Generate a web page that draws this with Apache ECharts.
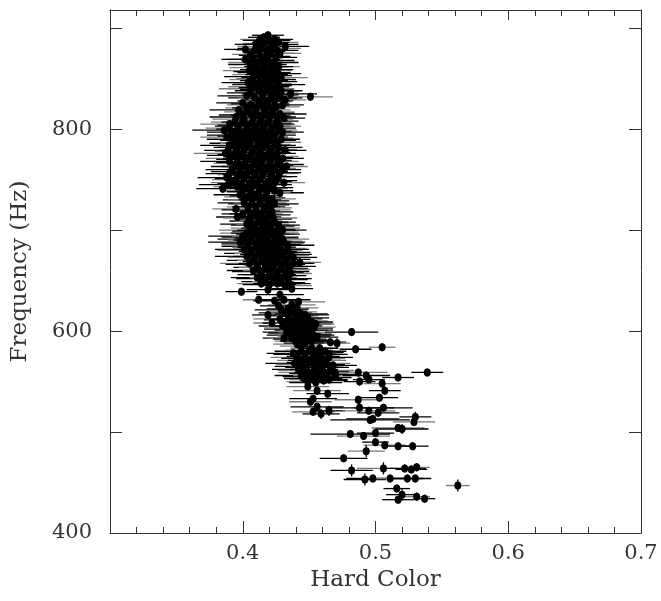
<!DOCTYPE html>
<html><head><meta charset="utf-8">
<script src="https://cdn.jsdelivr.net/npm/echarts@6/dist/echarts.min.js"></script>
<style>html,body{margin:0;padding:0;background:#fff}#c{width:661px;height:601px}</style>
</head><body><div id="c"></div>
<script>
// Axis settings
const xRange = [0.3, 0.7];
const yRange = [400, 918];
const xLabelValues = [0.4, 0.5, 0.6, 0.7];
const yLabelValues = [400, 600, 800];
const denseFreqErr = 4;

// [hardColor, frequency, hardColorErr]  -- upper branch
const upperBranch = [
[0.419,893,0.012],[0.413,889,0.015],[0.418,888,0.018],[0.424,889,0.014],[0.416,885,0.016],[0.410,884,0.016],[0.422,884,0.02],[0.427,886,0.015],[0.414,880,0.018],[0.419,879,0.015],[0.424,880,0.02],[0.432,882,0.018],[0.402,879,0.016],[0.409,878,0.014],[0.421,875,0.018],[0.425,871,0.016],[0.428,875,0.016],[0.402,869,0.018],[0.408,869,0.02],[0.414,870,0.016],[0.419,868,0.02],[0.424,866,0.018],[0.427,862,0.016],[0.411,864,0.022],[0.417,862,0.016],[0.405,858,0.02],[0.411,857,0.018],[0.416,856,0.02],[0.421,858,0.016],[0.426,855,0.018],[0.408,852,0.022],[0.413,850,0.018],[0.419,851,0.02],[0.424,849,0.016],[0.429,851,0.02],[0.404,846,0.02],[0.410,844,0.018],[0.415,845,0.022],[0.421,843,0.016],[0.427,844,0.02],[0.406,840,0.024],[0.412,838,0.018],[0.418,839,0.02],[0.424,837,0.018],[0.429,838,0.016],[0.436,835,0.02],[0.451,832,0.017],[0.403,833,0.022],[0.409,831,0.02],[0.415,832,0.018],[0.421,830,0.02],[0.427,831,0.018],[0.432,829,0.016]
];
const upperFill = [
[0.416,891,0.012],[0.421,886,0.014],[0.412,882,0.016],[0.418,877,0.014],[0.426,878,0.016],[0.406,874,0.014],[0.413,873,0.016],[0.418,872,0.018],[0.405,866,0.016],[0.416,866,0.014],[0.422,862,0.016],[0.408,861,0.018],[0.414,859,0.016],[0.424,859,0.014],[0.410,854,0.018],[0.418,854,0.016],[0.423,853,0.014],[0.406,849,0.016],[0.416,848,0.018],[0.427,847,0.014],[0.407,842,0.018],[0.413,841,0.016],[0.419,842,0.016],[0.425,840,0.014],[0.406,836,0.018],[0.415,835,0.016],[0.422,834,0.018],[0.428,834,0.014],[0.412,828,0.016],[0.418,827,0.018],[0.424,828,0.014]
];
// middle branch 737-828 Hz
const middleBranch = [
[0.400,826,0.02],[0.406,824,0.018],[0.413,825,0.022],[0.419,823,0.016],[0.425,822,0.018],[0.430,824,0.016],
[0.397,819,0.022],[0.404,817,0.018],[0.410,818,0.016],[0.417,816,0.022],[0.423,817,0.016],[0.428,815,0.02],
[0.395,812,0.02],[0.401,810,0.024],[0.408,811,0.016],[0.414,809,0.02],[0.420,810,0.018],[0.426,808,0.016],[0.431,811,0.016],
[0.390,805,0.022],[0.397,803,0.018],[0.403,804,0.022],[0.410,802,0.016],[0.416,803,0.02],[0.422,801,0.018],[0.428,803,0.016],
[0.386,799,0.024],[0.393,797,0.02],[0.400,796,0.016],[0.406,798,0.02],[0.412,795,0.018],[0.418,796,0.022],[0.424,794,0.016],[0.430,797,0.016],
[0.388,792,0.02],[0.395,790,0.022],[0.401,789,0.018],[0.408,791,0.02],[0.414,788,0.016],[0.420,789,0.02],[0.426,787,0.018],
[0.390,784,0.022],[0.396,782,0.018],[0.403,783,0.022],[0.409,781,0.02],[0.415,782,0.016],[0.421,780,0.02],[0.427,782,0.018],[0.432,779,0.016],
[0.387,776,0.024],[0.393,774,0.02],[0.399,775,0.018],[0.406,773,0.02],[0.412,774,0.016],[0.418,772,0.02],[0.424,773,0.018],[0.430,771,0.016],
[0.390,768,0.022],[0.396,766,0.018],[0.402,767,0.022],[0.408,765,0.016],[0.414,766,0.02],[0.420,764,0.018],[0.426,765,0.02],[0.433,763,0.016],
[0.392,760,0.02],[0.398,758,0.022],[0.404,759,0.016],[0.410,757,0.02],[0.416,758,0.018],[0.422,756,0.02],[0.428,757,0.016],
[0.388,752,0.022],[0.395,750,0.018],[0.401,751,0.022],[0.407,749,0.016],[0.413,750,0.02],[0.419,748,0.018],[0.425,749,0.016],[0.431,747,0.016],
[0.385,741,0.02],[0.389,745,0.022],[0.396,743,0.018],[0.402,742,0.02],[0.408,744,0.016],[0.414,741,0.02],[0.420,742,0.018],[0.428,737,0.018]
];
const middleFill = [
[0.403,821,0.016],[0.410,821,0.018],[0.416,820,0.016],[0.422,819,0.014],[0.400,814,0.018],[0.407,814,0.016],[0.413,813,0.018],[0.420,813,0.016],[0.426,812,0.014],
[0.394,807,0.018],[0.400,807,0.016],[0.407,806,0.018],[0.413,806,0.016],[0.419,806,0.018],[0.425,805,0.014],
[0.390,801,0.018],[0.396,800,0.016],[0.403,800,0.018],[0.409,799,0.016],[0.415,799,0.018],[0.421,798,0.016],[0.427,799,0.014],
[0.391,794,0.018],[0.397,793,0.016],[0.404,793,0.018],[0.410,792,0.016],[0.416,792,0.018],[0.422,791,0.016],[0.429,790,0.014],
[0.393,786,0.018],[0.399,786,0.016],[0.405,786,0.018],[0.412,785,0.016],[0.418,785,0.018],[0.424,784,0.016],
[0.389,779,0.018],[0.395,778,0.016],[0.401,779,0.018],[0.407,777,0.016],[0.413,778,0.018],[0.420,777,0.016],[0.426,776,0.014],
[0.390,771,0.018],[0.396,770,0.016],[0.403,771,0.018],[0.409,769,0.016],[0.415,770,0.018],[0.421,769,0.016],[0.428,768,0.014],
[0.394,763,0.018],[0.400,763,0.016],[0.406,762,0.018],[0.412,762,0.016],[0.418,761,0.018],[0.424,761,0.016],[0.430,760,0.014],
[0.390,756,0.018],[0.397,755,0.016],[0.403,755,0.018],[0.409,754,0.016],[0.415,754,0.018],[0.421,753,0.016],[0.427,753,0.014],
[0.392,747,0.016],[0.399,746,0.018],[0.405,746,0.016],[0.411,746,0.018],[0.417,745,0.016],[0.423,745,0.014],
[0.400,739,0.016],[0.406,738,0.018],[0.412,738,0.016],[0.418,737,0.018],[0.424,739,0.014]
];
// narrow section 698-735 Hz
const narrowSection = [
[0.398,735,0.02],[0.404,733,0.018],[0.410,734,0.02],[0.416,732,0.016],[0.422,731,0.018],
[0.401,727,0.02],[0.407,726,0.018],[0.413,727,0.02],[0.419,725,0.016],[0.424,726,0.018],
[0.395,721,0.018],[0.404,720,0.02],[0.410,719,0.018],[0.416,720,0.02],[0.422,718,0.016],
[0.396,713,0.016],[0.405,712,0.02],[0.411,713,0.018],[0.417,711,0.02],[0.423,712,0.018],
[0.403,706,0.02],[0.409,705,0.018],[0.415,706,0.02],[0.421,704,0.018],[0.427,705,0.016],
[0.406,700,0.024],[0.412,699,0.02],[0.418,700,0.022],[0.424,698,0.018],[0.430,700,0.018]
];
const narrowFill = [
[0.401,730,0.016],[0.407,730,0.018],[0.413,730,0.016],[0.419,729,0.016],[0.404,723,0.016],[0.410,723,0.018],[0.416,723,0.016],[0.421,722,0.016],
[0.400,716,0.016],[0.408,716,0.018],[0.414,716,0.016],[0.420,715,0.016],[0.406,709,0.016],[0.412,709,0.018],[0.418,708,0.016],[0.424,708,0.016],
[0.409,702,0.018],[0.415,702,0.016],[0.421,701,0.018],[0.427,702,0.016]
];
// lower branch 628-697 Hz
const lowerBranch = [
[0.400,694,0.026],[0.406,693,0.022],[0.412,694,0.02],[0.418,692,0.024],[0.424,693,0.018],[0.430,691,0.02],
[0.398,688,0.024],[0.404,687,0.02],[0.410,686,0.026],[0.416,688,0.02],[0.422,686,0.022],[0.428,687,0.018],[0.434,685,0.02],
[0.401,681,0.022],[0.407,680,0.026],[0.413,681,0.02],[0.419,679,0.022],[0.425,680,0.02],[0.431,678,0.02],
[0.403,674,0.024],[0.409,673,0.02],[0.415,674,0.022],[0.421,672,0.02],[0.427,673,0.022],[0.433,671,0.018],[0.438,673,0.018],
[0.405,667,0.022],[0.411,666,0.024],[0.417,667,0.02],[0.423,665,0.022],[0.429,666,0.018],[0.435,664,0.02],[0.443,668,0.016],
[0.408,660,0.02],[0.414,659,0.022],[0.420,660,0.02],[0.426,658,0.02],[0.432,659,0.018],[0.436,657,0.016],
[0.411,653,0.02],[0.417,652,0.022],[0.423,653,0.018],[0.429,651,0.02],[0.434,652,0.018],
[0.414,647,0.018],[0.420,646,0.02],[0.426,647,0.018],[0.432,645,0.02],[0.437,642,0.016],
[0.399,639,0.012],[0.412,631,0.012],[0.424,630,0.016],[0.431,631,0.02],[0.442,629,0.02],[0.428,636,0.018],[0.419,641,0.016]
];
const lowerFill = [
[0.403,697,0.02],[0.409,697,0.018],[0.415,696,0.02],[0.421,696,0.018],[0.427,696,0.016],
[0.401,691,0.02],[0.407,690,0.018],[0.413,690,0.02],[0.419,689,0.018],[0.425,689,0.02],[0.431,688,0.016],
[0.404,684,0.02],[0.410,683,0.018],[0.416,683,0.02],[0.422,683,0.018],[0.428,682,0.02],[0.434,681,0.016],
[0.406,677,0.02],[0.412,677,0.018],[0.418,676,0.02],[0.424,676,0.018],[0.430,675,0.02],[0.436,676,0.016],
[0.408,670,0.02],[0.414,670,0.018],[0.420,669,0.02],[0.426,669,0.018],[0.432,668,0.02],[0.438,667,0.016],
[0.411,663,0.018],[0.417,663,0.02],[0.423,662,0.018],[0.429,662,0.02],[0.435,661,0.016],
[0.414,656,0.018],[0.420,656,0.02],[0.426,655,0.018],[0.432,655,0.016],
[0.417,649,0.018],[0.423,649,0.016],[0.429,648,0.018],[0.435,647,0.016]
];
// cluster near 600 Hz
const cluster600 = [
[0.437,626,0.018],[0.429,621,0.02],[0.419,616,0.012],[0.422,608,0.014],[0.431,593,0.016],
[0.432,618,0.02],[0.438,619,0.018],[0.444,617,0.02],[0.449,613,0.016],
[0.428,612,0.02],[0.434,611,0.018],[0.440,612,0.02],[0.446,610,0.018],[0.452,609,0.016],
[0.430,605,0.018],[0.436,604,0.02],[0.442,605,0.018],[0.448,603,0.02],[0.454,604,0.016],
[0.433,599,0.018],[0.439,598,0.02],[0.445,599,0.018],[0.451,597,0.016],[0.456,594,0.016],
[0.437,593,0.018],[0.443,592,0.02],[0.449,591,0.016],[0.441,587,0.018],[0.447,588,0.016]
];
const cluster600Fill = [
[0.435,615,0.018],[0.441,615,0.016],[0.447,616,0.018],[0.431,608,0.016],[0.437,608,0.018],[0.443,608,0.016],[0.449,607,0.018],[0.455,607,0.014],
[0.434,602,0.018],[0.440,601,0.016],[0.446,601,0.018],[0.452,601,0.016],[0.436,596,0.018],[0.442,595,0.016],[0.448,595,0.018],[0.453,596,0.016],
[0.440,590,0.016],[0.446,590,0.018],[0.452,590,0.014],[0.444,585,0.016],[0.434,622,0.016],[0.427,625,0.014],[0.441,623,0.016]
];
// cluster near 570 Hz
const cluster570 = [
[0.438,578,0.02],[0.444,580,0.02],[0.450,581,0.018],[0.456,579,0.02],[0.462,580,0.016],
[0.441,574,0.02],[0.447,573,0.018],[0.453,575,0.02],[0.459,573,0.018],[0.465,574,0.018],
[0.439,568,0.022],[0.445,567,0.02],[0.451,569,0.018],[0.457,567,0.02],[0.463,568,0.018],[0.468,566,0.018],
[0.442,562,0.02],[0.448,561,0.022],[0.454,562,0.018],[0.460,560,0.02],[0.466,561,0.018],
[0.444,556,0.02],[0.450,555,0.02],[0.456,556,0.018],[0.462,554,0.02],[0.470,557,0.016],
[0.449,550,0.016],[0.455,549,0.02],[0.461,551,0.018],[0.449,545,0.016]
];
const cluster570Fill = [
[0.441,577,0.018],[0.447,577,0.016],[0.453,578,0.018],[0.459,577,0.016],[0.465,577,0.014],
[0.444,571,0.018],[0.450,571,0.016],[0.456,571,0.018],[0.462,571,0.016],
[0.442,565,0.018],[0.448,564,0.016],[0.454,565,0.018],[0.460,564,0.016],[0.466,564,0.014],
[0.445,559,0.018],[0.451,558,0.016],[0.457,559,0.018],[0.463,558,0.016],[0.469,559,0.014],
[0.447,553,0.016],[0.453,552,0.018],[0.459,553,0.016],[0.465,552,0.014],[0.452,583,0.016],[0.458,583,0.014]
];
// [hardColor, frequency, hardColorErr, frequencyErr] -- scattered points
const scatteredPoints = [
[0.482,599,0.02,4],[0.505,584,0.01,4],[0.485,582,0.012,4],[0.466,589,0.012,4],[0.471,588,0.01,5],
[0.539,559,0.012,4],[0.517,554,0.012,4],[0.487,559,0.022,4],[0.493,556,0.018,4],[0.495,552,0.012,4],
[0.451,530,0.016,4],[0.453,533,0.018,4],[0.456,525,0.02,4],[0.453,520,0.016,4],[0.459,518,0.014,5],[0.465,521,0.012,5],[0.456,541,0.018,4],[0.464,538,0.016,4],
[0.488,550,0.012,4],[0.505,548,0.014,4],[0.507,541,0.012,4],[0.503,534,0.014,4],[0.487,532,0.018,4],[0.488,524,0.026,5],[0.506,524,0.022,4],[0.495,521,0.02,4],[0.502,519,0.016,4],
[0.530,515,0.012,5],[0.529,510,0.016,4],[0.496,512,0.03,4],[0.498,513,0.02,4],[0.517,504,0.02,4],[0.520,503,0.02,5],
[0.481,498,0.03,4],[0.491,496,0.02,4],[0.500,499,0.014,4],[0.500,490,0.01,4],[0.507,487,0.016,4],[0.517,486,0.012,4],[0.528,486,0.012,4],
[0.493,481,0.014,6],[0.476,474,0.018,4],[0.482,462,0.016,6],[0.506,464,0.02,6],[0.522,464,0.016,4],[0.527,463,0.012,4],[0.531,465,0.01,4],
[0.492,453,0.016,6],[0.498,454,0.02,4],[0.511,454,0.016,4],[0.524,454,0.012,4],[0.530,454,0.012,4],[0.562,447,0.009,6],
[0.516,444,0.01,4],[0.520,438,0.012,6],[0.531,436,0.01,4],[0.537,434,0.008,4],[0.517,433,0.012,4]
];

const groups = [upperBranch, upperFill, middleBranch, middleFill, narrowSection, narrowFill, lowerBranch, lowerFill,
  cluster600, cluster600Fill, cluster570, cluster570Fill, scatteredPoints];
const allPoints = [];
groups.forEach(g => g.forEach(p => allPoints.push([p[0], p[1], p[2], p.length > 3 ? p[3] : denseFreqErr])));

const FONT = 'DejaVu Serif';
const AX = '#333';
const labelStyle = {fontFamily: FONT, fontSize: 21, color: '#333'};

const chart = echarts.init(document.getElementById('c'), null, {renderer: 'canvas'});
chart.setOption({
  animation: false,
  backgroundColor: '#fff',
  grid: {left: 110, right: 20, top: 10, bottom: 68, containLabel: false},
  xAxis: [{
    type: 'value', min: xRange[0], max: xRange[1], interval: 0.1, position: 'bottom',
    axisLine: {show: true, lineStyle: {color: AX, width: 1}},
    axisTick: {show: true, inside: true, length: 12, lineStyle: {color: AX}},
    minorTick: {show: true, splitNumber: 5, length: 6, lineStyle: {color: AX}},
    splitLine: {show: false},
    axisLabel: Object.assign({margin: 10, formatter: v => xLabelValues.some(t => Math.abs(t - v) < 1e-9) ? v.toFixed(1) : ''}, labelStyle),
    name: 'Hard Color', nameLocation: 'middle', nameGap: 34,
    nameTextStyle: {fontFamily: FONT, fontSize: 23, color: '#333'}
  }, {
    type: 'value', min: xRange[0], max: xRange[1], interval: 0.1, position: 'top',
    axisLine: {show: true, lineStyle: {color: AX, width: 1}},
    axisTick: {show: true, inside: true, length: 10, lineStyle: {color: AX}},
    minorTick: {show: true, splitNumber: 5, length: 6, lineStyle: {color: AX}},
    splitLine: {show: false}, axisLabel: {show: false}
  }],
  yAxis: [{
    type: 'value', min: yRange[0], max: yRange[1], interval: 100, position: 'left',
    axisLine: {show: true, lineStyle: {color: AX, width: 1}},
    axisTick: {show: true, inside: true, length: 12, lineStyle: {color: AX}},
    splitLine: {show: false},
    axisLabel: Object.assign({margin: 18, showMaxLabel: false, formatter: v => yLabelValues.includes(v) ? String(v) : ''}, labelStyle),
    name: 'Frequency (Hz)', nameLocation: 'middle', nameGap: 78,
    nameTextStyle: {fontFamily: FONT, fontSize: 23, color: '#333'}
  }, {
    type: 'value', min: yRange[0], max: yRange[1], interval: 100, position: 'right',
    axisLine: {show: true, lineStyle: {color: AX, width: 1}},
    axisTick: {show: true, inside: true, length: 12, lineStyle: {color: AX}},
    splitLine: {show: false}, axisLabel: {show: false}
  }],
  series: [{
    type: 'custom',
    xAxisIndex: 0, yAxisIndex: 0,
    data: allPoints,
    z: 2,
    renderItem: function (params, api) {
      const x = api.value(0), y = api.value(1), ex = api.value(2), ey = api.value(3);
      const l = api.coord([x - ex, y]), r = api.coord([x + ex, y]);
      const b = api.coord([x, y - ey]), t = api.coord([x, y + ey]);
      const col = params.dataIndex % 3 === 1 ? '#7a7a7a' : '#000';
      return {type: 'group', children: [
        {type: 'line', shape: {x1: l[0], y1: l[1], x2: r[0], y2: r[1]}, style: {stroke: col, lineWidth: 1.3}},
        {type: 'line', shape: {x1: b[0], y1: b[1], x2: t[0], y2: t[1]}, style: {stroke: '#000', lineWidth: 1.3}}
      ]};
    }
  }, {
    type: 'scatter',
    xAxisIndex: 0, yAxisIndex: 0,
    data: allPoints.map(p => [p[0], p[1]]),
    symbol: 'circle', symbolSize: [7, 8],
    itemStyle: {color: '#000', opacity: 1},
    z: 3
  }]
});
</script></body></html>
